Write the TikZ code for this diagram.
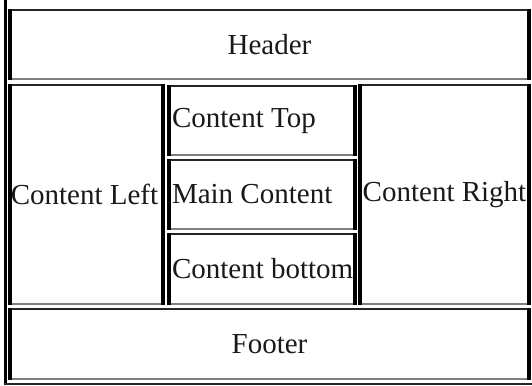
\documentclass[tikz,border=0pt]{standalone}
\usepackage{fontspec}
\setmainfont{Liberation Serif}
\definecolor{edgedark}{HTML}{262626}
\definecolor{edgelight}{HTML}{808080}
\tikzset{
  cell/.style={rectangle, inner sep=0pt, outer sep=0pt,
    font=\fontsize{29}{34}\selectfont, text=black!90},
  topedge/.style={draw=edgedark, line width=2pt},
  bottomedge/.style={draw=edgelight, line width=2pt},
  sideedge/.style={draw=black, line width=3.5pt},
  frameedge/.style={draw=black, line width=3pt},
  framebottom/.style={draw=edgedark, line width=2pt},
}
% left-aligned cell text, 5pt in from the left edge of a 190pt cell
\newcommand\lefttext[1]{\makebox[180pt][l]{#1}}
% four-sided bevelled border of a table cell
\newcommand\cellframe[1]{%
  \draw[topedge] ([yshift=-1pt]#1.north west) -- ([yshift=-1pt]#1.north east);
  \draw[bottomedge] ([yshift=1pt]#1.south west) -- ([yshift=1pt]#1.south east);
  \draw[sideedge] ([xshift=2pt]#1.north west) -- ([xshift=2pt]#1.south west);
  \draw[sideedge] ([xshift=-2pt]#1.north east) -- ([xshift=-2pt]#1.south east);
}
\begin{document}
\begin{tikzpicture}[x=1pt, y=-1pt]
  \useasboundingbox[fill=white] (0,0) rectangle (532,385);

  % outer table frame (left and bottom sides)
  \draw[frameedge] (5,0) -- (5,385);
  \draw[framebottom] (3.5,384) -- (532,384);

  % cells
  \node[cell, minimum width=523pt, minimum height=71pt] (header) at (269.5,44.5) {Header\hspace{6pt}};
  \node[cell, minimum width=157pt, minimum height=221pt] (cleft) at (86.5,194.5) {\hspace{-4pt}Content Left};
  \node[cell, minimum width=190pt, minimum height=71pt] (ctop) at (262,120.5) {\lefttext{Content Top}};
  \node[cell, minimum width=190pt, minimum height=71pt] (cmain) at (262,194.5) {\lefttext{Main Content}};
  \node[cell, minimum width=190pt, minimum height=72pt] (cbottom) at (262,269) {\lefttext{Content bottom}};
  \node[cell, minimum width=173pt, minimum height=221pt] (cright) at (444.5,194.5) {Content Right};
  \node[cell, minimum width=523pt, minimum height=72pt] (footer) at (269.5,344) {Footer\hspace{6pt}};

  \cellframe{header}
  \cellframe{cleft}
  \cellframe{ctop}
  \cellframe{cmain}
  \cellframe{cbottom}
  \cellframe{cright}
  \cellframe{footer}
\end{tikzpicture}
\end{document}
